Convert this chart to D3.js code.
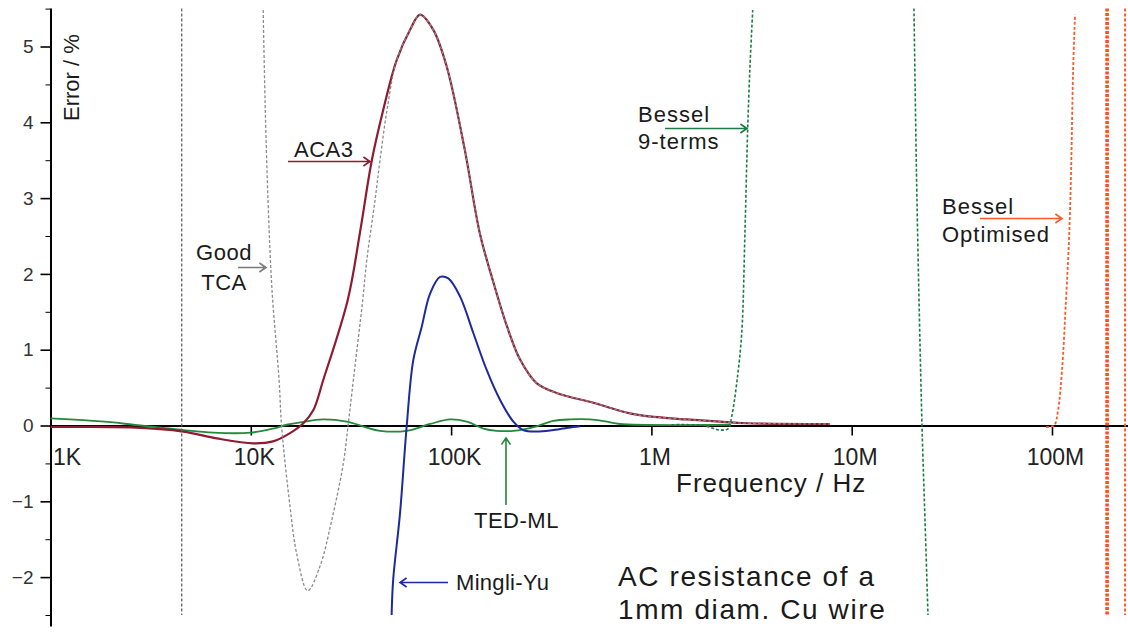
<!DOCTYPE html>
<html>
<head>
<meta charset="utf-8">
<script src="https://cdn.jsdelivr.net/npm/d3@7"></script>
<style>
  body { margin: 0; background: #fff; }
  svg { display: block; font-family: "Liberation Sans", Arial, sans-serif; }
</style>
</head>
<body>
<script>
// frequencies in Hz, errors in %
var aca3Freq = [1000, 2500, 4600, 6760, 10300, 12900, 15700, 18300, 20500, 23000, 30500, 35100, 40200, 45800, 53500, 62400, 70000, 81500, 95000, 117000, 139000, 163000, 190000, 221000, 267000, 336000, 513000, 782000, 976000, 1.5e6, 2.2e6, 3.0e6, 7.8e6];
var aca3Err  = [-0.02, -0.025, -0.08, -0.17, -0.235, -0.21, -0.10, 0.03, 0.2, 0.6, 1.66, 2.55, 3.5, 4.16, 4.82, 5.22, 5.42, 5.22, 4.74, 3.64, 2.54, 1.88, 1.31, 0.87, 0.56, 0.43, 0.30, 0.16, 0.12, 0.08, 0.05, 0.03, 0.02];

// Good TCA: a singular drop near 4.5K, then the dip and the part that lies on ACA3
var tcaFreqA = [4520, 4520];
var tcaErrA  = [5.5, -2.5];
var tcaFreqB = [11530, 11780, 12190, 12760, 13840, 14260, 15700, 16940, 19230, 22130, 25350, 28970, 30690, 32510, 36220, 37930, 41690, 44160, 47860, 53500, 62400, 70000, 81500, 95000, 117000, 139000, 163000, 190000, 221000, 267000, 336000, 513000, 782000, 976000, 1.5e6, 2.2e6, 3.0e6, 7.8e6];
var tcaErrB  = [5.48, 4.29, 2.97, 1.79, 0.60, -0.02, -1.07, -1.69, -2.18, -1.86, -1.25, -0.50, 0.03, 0.60, 1.66, 2.18, 2.97, 3.50, 4.16, 4.82, 5.22, 5.42, 5.22, 4.74, 3.64, 2.54, 1.88, 1.31, 0.87, 0.56, 0.43, 0.30, 0.16, 0.12, 0.08, 0.05, 0.03, 0.02];

var mingliFreq = [50470, 51400, 55590, 59980, 64710, 71290, 78520, 88100, 96830, 110900, 129100, 150700, 175400, 204600, 229100, 267300, 323600, 407400, 440500];
var mingliErr  = [-2.5, -2.03, -1.16, -0.02, 0.86, 1.30, 1.74, 1.96, 1.94, 1.70, 1.22, 0.73, 0.34, 0.05, -0.06, -0.08, -0.06, -0.02, -0.01];

var tedFreq = [1000, 1459, 2061, 2588, 3388, 4603, 6501, 9908, 12940, 15100, 17620, 22910, 30130, 37150, 44160, 59980, 78520, 98850, 119700, 144900, 169000, 204600, 267300, 323600, 392600, 493200, 598400, 696600, 2.47e6];
var tedErr  = [0.095, 0.07, 0.04, 0.01, -0.02, -0.06, -0.095, -0.095, -0.04, 0.01, 0.04, 0.08, 0.05, -0.02, -0.07, -0.07, 0.02, 0.08, 0.05, -0.04, -0.07, -0.07, -0.01, 0.06, 0.08, 0.08, 0.05, 0.02, 0.01];

var bessel9FreqA = [1.26e6, 1.816e6, 2.198e6, 2.421e6, 2.518e6, 2.667e6, 2.825e6, 2.931e6, 3.020e6, 3.105e6, 3.206e6];
var bessel9ErrA  = [0.01, 0, -0.06, -0.04, 0.12, 0.56, 1.22, 2.54, 3.85, 4.73, 5.48];
var bessel9FreqB = [2.046e7, 2.118e7, 2.244e7, 2.323e7, 2.404e7];
var bessel9ErrB  = [5.5, 2.97, 0, -1.25, -2.5];

var besselOptFreq = [9.33e7, 1.023e8, 1.072e8, 1.122e8, 1.175e8, 1.216e8, 1.245e8, 1.274e8, 1.303e8];
var besselOptErr  = [-0.02, 0, 0.2, 0.73, 1.66, 2.45, 3.33, 4.66, 5.42];
var besselOptFreqC = [1.884e8, 1.884e8];
var besselOptFreqD = [2.317e8, 2.317e8];
var besselOptErrCD = [5.5, -2.5];

var xTicks = [1e3, 1e4, 1e5, 1e6, 1e7, 1e8];
var xTickLabels = ["1K", "10K", "100K", "1M", "10M", "100M"];
var yTicks = [-2, -1, 0, 1, 2, 3, 4, 5];
var yMinorTicks = [-2.5, -1.5, -0.5, 0.5, 1.5, 2.5, 3.5, 4.5, 5.5];

var width = 1128, height = 633;

var svg = d3.select('body').append('svg')
    .attr('width', width)
    .attr('height', height)
    .style('background-color', 'white');

var x = d3.scaleLog().domain([1e3, 2.396e8]).range([50.5, 1128]);
var y = d3.scaleLinear().domain([-2.645, 5.508]).range([626, 8]);

svg.append('defs').append('clipPath').attr('id', 'plot')
  .append('rect').attr('x', 50).attr('y', 8).attr('width', 1078).attr('height', 618);

// axes
var yMinor = svg.append('g').attr('transform', 'translate(50.5,0)')
    .call(d3.axisLeft(y).tickValues(yMinorTicks).tickSize(5).tickFormat(''));
yMinor.select('.domain').remove();

var yAxis = svg.append('g').attr('transform', 'translate(50.5,0)')
    .call(d3.axisLeft(y).tickValues(yTicks).tickSize(10).tickSizeOuter(0).tickPadding(7).tickFormat(d3.format('d')));
yAxis.select('.domain').attr('stroke-width', 2);
yAxis.selectAll('text').attr('font-size', 19).attr('fill', '#333').style('font-family', '"Liberation Sans", Arial');
yAxis.selectAll('line').attr('stroke-width', 1.6);

var xAxis = svg.append('g').attr('transform', 'translate(0,' + y(0) + ')')
    .call(d3.axisBottom(x).tickValues(xTicks).tickSize(10).tickSizeOuter(0).tickPadding(13)
      .tickFormat(function(d, i) { return xTickLabels[i]; }));
xAxis.select('.domain').attr('stroke-width', 2);
xAxis.selectAll('line').attr('stroke-width', 1.6);
xAxis.selectAll('text').attr('font-size', 23).attr('fill', '#222').attr('dx', 3)
    .style('font-family', '"Liberation Sans", Arial');
xAxis.selectAll('text').filter(function(d) { return d === 1e3; })
    .attr('text-anchor', 'start').attr('dx', 2);

// curves
var line = d3.line()
    .x(function(d) { return x(d[0]); })
    .y(function(d) { return y(d[1]); })
    .curve(d3.curveCatmullRom.alpha(0.5));

function zip(f, v) { return f.map(function(d, i) { return [d, v[i]]; }); }

var series = [
  {pts: zip(tedFreq, tedErr), color: '#23883a', w: 1.8},
  {pts: zip(mingliFreq, mingliErr), color: '#1c2a9c', w: 2},
  {pts: zip(aca3Freq, aca3Err), color: '#8e1b32', w: 2.2},
  {pts: zip(tcaFreqA, tcaErrA), color: '#6e5e66', w: 1.3, dash: '3,2'},
  {pts: zip(tcaFreqB, tcaErrB), color: '#8a8a8a', w: 1.3, dash: '3,2'},
  {pts: zip(bessel9FreqA, bessel9ErrA), color: '#1d7a45', w: 1.6, dash: '3,2'},
  {pts: zip(bessel9FreqB, bessel9ErrB), color: '#1d7a45', w: 1.6, dash: '3,2'},
  {pts: zip(besselOptFreq, besselOptErr), color: '#ff5a26', w: 1.8, dash: '3,2'},
  {pts: zip(besselOptFreqC, besselOptErrCD), color: '#ff5020', w: 3.6, dash: '3,1.5'},
  {pts: zip(besselOptFreqD, besselOptErrCD), color: '#ff5a26', w: 2, dash: '3,2'}
];

svg.append('g').attr('clip-path', 'url(#plot)')
  .selectAll('path').data(series).enter()
  .append('path')
  .attr('d', function(d) { return line(d.pts); })
  .attr('fill', 'none')
  .attr('stroke', function(d) { return d.color; })
  .attr('stroke-width', function(d) { return d.w; })
  .attr('stroke-dasharray', function(d) { return d.dash || null; });

// labels and arrows
var txt = svg.append('g').attr('fill', '#1a1a1a');

function label(s, px, py, size, anchor, spacing) {
  txt.append('text').attr('x', px).attr('y', py).attr('font-size', size)
    .attr('text-anchor', anchor || 'start')
    .attr('letter-spacing', spacing || 0)
    .text(s);
}

function arrow(x1, y1, x2, y2, color) {
  var a = Math.atan2(y2 - y1, x2 - x1), h = 8;
  var p = 'M' + x1 + ',' + y1 + 'L' + x2 + ',' + y2 +
    'M' + (x2 - h * Math.cos(a - 0.6)) + ',' + (y2 - h * Math.sin(a - 0.6)) +
    'L' + x2 + ',' + y2 +
    'L' + (x2 - h * Math.cos(a + 0.6)) + ',' + (y2 - h * Math.sin(a + 0.6));
  svg.append('path').attr('d', p).attr('fill', 'none').attr('stroke', color).attr('stroke-width', 1.6);
}

txt.append('text').attr('transform', 'translate(79,121) rotate(-90)')
  .attr('font-size', 22).text('Error / %');

label('Frequency / Hz', 676, 492, 26, 'start', 1);

label('ACA3', 294, 157, 22, 'start', 0.5);
arrow(288, 161.5, 370, 161.5, '#8e1b32');

label('Good', 224, 260, 22, 'middle', 0.5);
label('TCA', 224, 290, 22, 'middle', 0.5);
arrow(238, 267.5, 266, 267.5, '#7a7a7a');

label('Bessel', 638, 122, 22, 'start', 1);
label('9-terms', 638, 149, 22, 'start', 1);
arrow(665, 128.5, 747, 128.5, '#1d7a45');

label('Bessel', 942, 214, 22, 'start', 1);
label('Optimised', 942, 242, 22, 'start', 1);
arrow(980, 218.5, 1062, 218.5, '#ff5a26');

label('TED-ML', 474, 528, 22, 'start', 0.5);
arrow(506, 505, 506, 438, '#23883a');

label('Mingli-Yu', 456, 590, 22, 'start', 0.3);
arrow(448, 582.5, 400, 582.5, '#1c2a9c');

label('AC resistance of a', 618, 586, 28, 'start', 1.6);
label('1mm diam. Cu wire', 618, 619, 28, 'start', 1.6);
</script>
</body>
</html>
